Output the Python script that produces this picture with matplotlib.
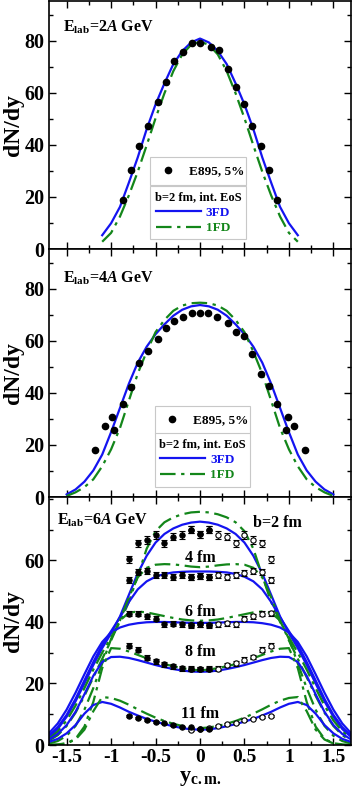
import matplotlib
matplotlib.use('Agg')
import matplotlib.pyplot as plt
import numpy as np
from matplotlib.lines import Line2D
from matplotlib.ticker import MultipleLocator, FuncFormatter

plt.rcParams['font.family'] = ['Liberation Serif', 'DejaVu Serif']
plt.rcParams['font.weight'] = 'bold'
plt.rcParams['mathtext.fontset'] = 'custom'
plt.rcParams['mathtext.rm'] = 'Liberation Serif:bold'
plt.rcParams['mathtext.bf'] = 'Liberation Serif:bold'
plt.rcParams['mathtext.it'] = 'Liberation Serif:bold:italic'

BLUE = '#1414f0'
GREEN = '#13861a'
LW = 1.6
DASHDOT = (0, (7, 2.5, 1.5, 2.5))

# ---- panel 1: E_lab = 2A GeV ----
x_e2 = [-0.87, -0.78, -0.69, -0.59, -0.47, -0.38, -0.29, -0.19, -0.09, 0.0,
        0.12, 0.21, 0.31, 0.40, 0.50, 0.59, 0.69, 0.78, 0.87]
y_e2 = [18.9, 30.4, 39.7, 47.1, 56.4, 64.1, 72.3, 75.7, 79.1, 79.1,
        77.5, 76.5, 69.1, 62.3, 55.7, 47.3, 39.7, 30.4, 18.9]
x_c2 = [-1.1, -1.0, -0.9, -0.8, -0.7, -0.6, -0.5, -0.4, -0.3, -0.2, -0.1, 0.0,
        0.1, 0.2, 0.3, 0.4, 0.5, 0.6, 0.7, 0.8, 0.9, 1.0, 1.1]
fd3_2 = [5.3, 9.9, 16.2, 25.5, 35.2, 46.0, 55.5, 63.6, 71.0, 76.0, 79.3, 80.8,
         79.3, 76.0, 71.0, 63.6, 55.5, 46.0, 35.2, 25.5, 16.2, 9.9, 5.3]
fd1_2 = [2.8, 6.2, 12.5, 20.6, 29.7, 39.8, 50.2, 59.8, 68.3, 74.7, 78.4, 79.6,
         78.4, 74.7, 68.3, 59.8, 50.2, 39.8, 29.7, 20.6, 12.5, 6.2, 2.8]

# ---- panel 2: E_lab = 4A GeV ----
x_e4 = [-1.18, -1.07, -0.99, -0.965, -0.87, -0.78, -0.69, -0.59, -0.475, -0.38,
        -0.29, -0.19, -0.09, 0.0, 0.09, 0.19, 0.31, 0.40, 0.49, 0.59, 0.69,
        0.78, 0.87, 0.965, 0.99, 1.06, 1.18]
y_e4 = [18.1, 27.2, 30.8, 25.9, 35.9, 42.3, 51.6, 56.0, 60.8, 65.0,
        67.6, 69.1, 70.8, 70.8, 70.8, 69.1, 66.8, 63.4, 61.7, 54.8, 47.4,
        42.5, 35.9, 25.9, 30.8, 27.2, 18.1]
x_c4 = [-1.5, -1.4, -1.3, -1.2, -1.1, -1.0, -0.9, -0.8, -0.7, -0.6, -0.5, -0.4,
        -0.3, -0.2, -0.1, 0.0, 0.1, 0.2, 0.3, 0.4, 0.5, 0.6, 0.7, 0.8, 0.9,
        1.0, 1.1, 1.2, 1.3, 1.4, 1.5]
fd3_4 = [1.0, 2.9, 5.9, 10.2, 16.3, 24.9, 34.2, 43.5, 51.6, 57.7, 62.5, 66.3,
         69.6, 71.9, 73.2, 73.7, 73.2, 71.9, 69.6, 66.3, 62.5, 57.7, 51.6, 43.5,
         34.2, 24.9, 16.3, 10.2, 5.9, 2.9, 1.0]
fd1_4 = [0.4, 1.8, 3.8, 6.8, 11.8, 18.3, 26.5, 37.0, 47.4, 55.8, 63.3, 68.0,
         71.5, 73.5, 74.4, 74.6, 74.4, 73.5, 71.5, 68.0, 63.3, 55.8, 47.4, 37.0,
         26.5, 18.3, 11.8, 6.8, 3.8, 1.8, 0.4]

# ---- panel 3: E_lab = 6A GeV, several impact parameters ----
x_c6 = [-1.7, -1.6, -1.5, -1.4, -1.3, -1.2, -1.1, -1.0, -0.9, -0.8, -0.7, -0.6,
        -0.5, -0.4, -0.3, -0.2, -0.1, 0.0, 0.1, 0.2, 0.3, 0.4, 0.5, 0.6, 0.7,
        0.8, 0.9, 1.0, 1.1, 1.2, 1.3, 1.4, 1.5, 1.6, 1.7]
fd3_b2 = [2.6, 5.2, 9.2, 14.2, 20.0, 26.0, 31.5, 36.3, 41.8, 48.8, 55.8, 61.5,
          65.8, 68.6, 70.4, 71.6, 72.3, 72.6, 72.3, 71.6, 70.4, 68.6, 65.8, 61.5,
          55.8, 48.8, 41.8, 36.3, 31.5, 26.0, 20.0, 14.2, 9.2, 5.2, 2.6]
fd1_b2 = [2.0, 4.4, 8.0, 12.8, 18.5, 24.5, 30.0, 35.0, 40.0, 46.5, 55.0, 63.8,
          69.5, 72.4, 74.0, 75.0, 75.6, 75.8, 75.6, 75.0, 74.0, 72.4, 69.5, 63.8,
          55.0, 46.5, 40.0, 35.0, 30.0, 24.5, 18.5, 12.8, 8.0, 4.4, 2.0]
fd3_b4 = [3.0, 5.8, 9.8, 15.0, 21.0, 27.0, 32.5, 37.0, 41.5, 46.5, 50.6, 53.2,
          54.7, 55.6, 56.1, 56.3, 56.4, 56.4, 56.4, 56.3, 56.1, 55.6, 54.7, 53.2,
          50.6, 46.5, 41.5, 37.0, 32.5, 27.0, 21.0, 15.0, 9.8, 5.8, 3.0]
fd1_b4 = [1.4, 3.2, 6.2, 10.5, 16.0, 22.0, 28.0, 34.0, 40.5, 48.0, 54.5, 57.6,
          58.6, 58.8, 58.7, 58.4, 58.0, 57.8, 58.0, 58.4, 58.7, 58.8, 58.6, 57.6,
          54.5, 48.0, 40.5, 34.0, 28.0, 22.0, 16.0, 10.5, 6.2, 3.2, 1.4]
fd3_b6 = [3.8, 7.0, 11.5, 17.0, 23.0, 28.8, 33.5, 36.6, 38.2, 39.1, 39.6, 39.9,
          40.0, 40.0, 39.9, 39.8, 39.7, 39.7, 39.7, 39.8, 39.9, 40.0, 40.0, 39.9,
          39.6, 39.1, 38.2, 36.6, 33.5, 28.8, 23.0, 17.0, 11.5, 7.0, 3.8]
fd1_b6 = [0.5, 1.3, 3.0, 6.2, 11.5, 18.5, 26.5, 34.5, 40.5, 43.0, 43.4, 43.1,
          42.5, 41.9, 41.3, 40.8, 40.5, 40.4, 40.5, 40.8, 41.3, 41.9, 42.5, 43.1,
          43.4, 43.0, 40.5, 34.5, 26.5, 18.5, 11.5, 6.2, 3.0, 1.3, 0.5]
fd3_b8 = [1.8, 3.6, 6.5, 10.8, 16.5, 22.5, 27.0, 28.6, 28.7, 28.3, 27.6, 26.8,
          26.0, 25.3, 24.7, 24.2, 23.9, 23.8, 23.9, 24.2, 24.7, 25.3, 26.0, 26.8,
          27.6, 28.3, 28.7, 28.6, 27.0, 22.5, 16.5, 10.8, 6.5, 3.6, 1.8]
fd1_b8 = [0.1, 0.2, 0.6, 2.0, 6.0, 14.0, 25.0, 31.5, 31.3, 30.4, 29.3, 28.2,
          27.2, 26.3, 25.6, 25.0, 24.5, 24.3, 24.5, 25.0, 25.6, 26.3, 27.2, 28.2,
          29.3, 30.4, 31.3, 31.5, 25.0, 14.0, 6.0, 2.0, 0.6, 0.2, 0.1]
fd3_b11 = [1.0, 2.0, 3.8, 6.5, 10.2, 13.0, 14.0, 13.4, 12.2, 10.8, 9.6, 8.5,
           7.6, 6.8, 6.1, 5.5, 5.1, 5.0, 5.1, 5.5, 6.1, 6.8, 7.6, 8.5, 9.6,
           10.8, 12.2, 13.4, 14.0, 13.0, 10.2, 6.5, 3.8, 2.0, 1.0]
fd1_b11 = [0.0, 0.1, 0.5, 1.8, 5.0, 11.0, 15.6, 15.3, 14.4, 13.1, 11.6, 10.2,
           8.9, 7.8, 6.9, 6.2, 5.7, 5.5, 5.7, 6.2, 6.9, 7.8, 8.9, 10.2, 11.6,
           13.1, 14.4, 15.3, 15.6, 11.0, 5.0, 1.8, 0.5, 0.1, 0.0]

# data: filled (measured) and open (reflected)
x_fill = [-0.8, -0.7, -0.6, -0.5, -0.4, -0.3, -0.2, -0.1, 0.0, 0.1]
x_open = [-0.1, 0.0, 0.1, 0.2, 0.3, 0.4, 0.5, 0.6, 0.7, 0.8]
d_b2_fill = [60.3, 65.5, 66.6, 68.3, 65.5, 67.7, 68.2, 70.0, 68.5, 70.0]
d_b2_open = [70.0, 68.5, 70.0, 68.2, 67.7, 65.5, 68.3, 66.6, 65.5, 60.3]
d_b4_fill = [53.6, 56.3, 56.6, 55.3, 55.2, 54.6, 55.2, 54.7, 55.0, 54.6]
d_b4_open = [54.6, 55.0, 54.7, 55.3, 54.5, 55.2, 55.8, 56.6, 56.3, 53.6]
d_b6_fill = [42.7, 42.6, 41.8, 41.0, 39.3, 39.4, 39.2, 39.0, 39.3, 38.9]
d_b6_open = [38.9, 39.3, 39.0, 39.3, 39.5, 39.3, 41.1, 41.8, 42.6, 42.8]
d_b8_fill = [32.3, 31.0, 28.3, 27.2, 26.3, 25.6, 24.9, 24.7, 24.7, 24.8]
d_b8_open = [24.8, 24.7, 24.7, 24.8, 26.0, 26.6, 27.7, 28.6, 31.0, 32.3]
d_b11_fill = [9.4, 8.9, 8.1, 7.6, 7.0, 6.5, 6.0, 5.7, 5.3, 5.1]
d_b11_open = [5.0, 5.3, 5.6, 6.1, 6.7, 7.2, 8.2, 8.6, 9.0, 9.4]
err_b = [1.2, 1.0, 0.8, 0.8, 0.3]
b_labels = ['b=2 fm', '4 fm', '6 fm', '8 fm', '11 fm']

fig, axes = plt.subplots(3, 1, figsize=(3.54, 7.97), dpi=100)
fig.subplots_adjust(left=0.138, right=0.992, top=0.9987, bottom=0.0652, hspace=0)
ax1, ax2, ax3 = axes


def style(ax, ymax, yticks):
    ax.set_xlim(-1.7, 1.7)
    ax.set_ylim(0, ymax)
    ax.set_yticks(yticks)
    ax.yaxis.set_minor_locator(MultipleLocator(10))
    ax.xaxis.set_major_locator(MultipleLocator(0.5))
    ax.xaxis.set_minor_locator(MultipleLocator(0.25))
    ax.tick_params(which='both', direction='in', top=True, right=True, width=1.0)
    ax.tick_params(which='major', length=5, labelsize=14.5, pad=3)
    ax.tick_params(which='minor', length=3)
    for s in ax.spines.values():
        s.set_linewidth(1.2)
    ax.set_ylabel('dN/dy', fontsize=17, fontweight='bold')
    ax.yaxis.label.set_verticalalignment('center')
    ax.yaxis.set_label_coords(-0.118, 0.5)


def legends(ax, x0, w, y1, y2):
    h1 = [Line2D([], [], marker='o', color='k', ls='none', ms=4.5)]
    leg1 = ax.legend(h1, ['E895, 5%'], loc='upper left', bbox_to_anchor=(x0, y1, w, 0),
                     mode='expand', borderaxespad=0, fancybox=False, framealpha=1,
                     edgecolor='#c8c8c8', prop={'size': 9.5, 'weight': 'bold'},
                     handlelength=1.5, handletextpad=0.8, borderpad=0.6)
    leg1.get_frame().set_linewidth(0.8)
    ax.add_artist(leg1)
    h2 = [Line2D([], [], color=BLUE, lw=LW),
          Line2D([], [], color=GREEN, lw=LW, ls=DASHDOT)]
    leg2 = ax.legend(h2, ['3FD', '1FD'], loc='upper left', bbox_to_anchor=(x0, y2, w, 0),
                     mode='expand', borderaxespad=0, fancybox=False, framealpha=1,
                     edgecolor='#c8c8c8', prop={'size': 9.5, 'weight': 'bold'},
                     title='b=2 fm, int. EoS', title_fontproperties={'size': 9, 'weight': 'bold'},
                     handlelength=3.4, handletextpad=0.4, labelcolor='linecolor',
                     labelspacing=0.25, borderpad=0.4)
    leg2.get_frame().set_linewidth(0.8)


# panel 1
style(ax1, 95.2, [0, 20, 40, 60, 80])
ax1.plot(x_c2, fd3_2, color=BLUE, lw=LW)
ax1.plot(x_c2, fd1_2, color=GREEN, lw=LW, ls=DASHDOT)
ax1.plot(x_e2, y_e2, 'o', color='k', ms=4.5)
ax1.text(0.046, 0.895, r'E$_{\rm lab}$=2$\mathit{A}$ GeV', transform=ax1.transAxes,
         fontsize=11.5, va='center')
ax1.tick_params(labelbottom=False)
legends(ax1, 0.336, 0.316, 0.370, 0.255)

# panel 2
style(ax2, 95.2, [0, 20, 40, 60, 80])
ax2.plot(x_c4, fd3_4, color=BLUE, lw=LW)
ax2.plot(x_c4, fd1_4, color=GREEN, lw=LW, ls=DASHDOT)
ax2.plot(x_e4, y_e4, 'o', color='k', ms=4.5)
ax2.text(0.046, 0.883, r'E$_{\rm lab}$=4$\mathit{A}$ GeV', transform=ax2.transAxes,
         fontsize=11.5, va='center')
ax2.tick_params(labelbottom=False)
legends(ax2, 0.350, 0.316, 0.367, 0.258)

# panel 3
style(ax3, 80.6, [0, 20, 40, 60])
for fd3, fd1 in [(fd3_b2, fd1_b2), (fd3_b4, fd1_b4), (fd3_b6, fd1_b6),
                 (fd3_b8, fd1_b8), (fd3_b11, fd1_b11)]:
    ax3.plot(x_c6, fd3, color=BLUE, lw=LW)
    ax3.plot(x_c6, fd1, color=GREEN, lw=LW, ls=DASHDOT)

fills = [d_b2_fill, d_b4_fill, d_b6_fill, d_b8_fill, d_b11_fill]
opens = [d_b2_open, d_b4_open, d_b6_open, d_b8_open, d_b11_open]
for yf, yo, e in zip(fills, opens, err_b):
    ax3.errorbar(x_open, yo, yerr=e, fmt='o', mfc='white', mec='k', ecolor='k',
                 ms=3.8, mew=0.8, elinewidth=0.8, capsize=2, capthick=0.8)
    ax3.errorbar(x_fill, yf, yerr=e, fmt='o', mfc='k', mec='k', ecolor='k',
                 ms=3.8, mew=0.8, elinewidth=0.8, capsize=2, capthick=0.8)

lab_pos = [(0.87, 72.0), (0.0, 60.8), (0.0, 43.3), (0.0, 30.3), (0.0, 10.2)]
for (lx, ly), lab in zip(lab_pos, b_labels):
    ax3.text(lx, ly, lab, fontsize=11.5, ha='center', va='center')
ax3.text(0.026, 0.907, r'E$_{\rm lab}$=6$\mathit{A}$ GeV', transform=ax3.transAxes,
         fontsize=11.5, va='center')
ax3.xaxis.set_major_formatter(FuncFormatter(lambda v, p: '%g' % v))
ax3.tick_params(axis='x', labelsize=14)
ax3.set_xlabel(r'y$_{\rm c.m.}$', fontsize=16, fontweight='bold', labelpad=1)

fig.savefig('out.png', dpi=100)
